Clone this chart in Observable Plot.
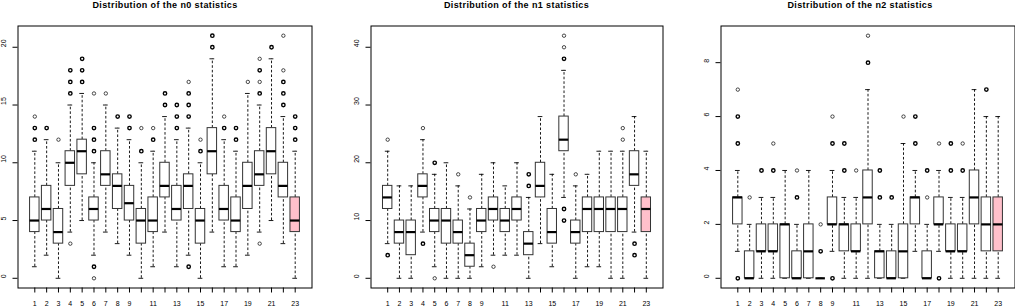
<!DOCTYPE html>
<html>
<head>
<meta charset="utf-8">
<script src="https://cdn.jsdelivr.net/npm/d3@7"></script>
<script src="https://cdn.jsdelivr.net/npm/@observablehq/plot@0.6"></script>
<style>
  html, body { margin: 0; padding: 0; background: #fff; }
  #root { position: relative; width: 1015px; height: 306px; overflow: hidden; font-family: "Liberation Sans", Arial, sans-serif; }
  .panel { position: absolute; top: 0; }
  .panel svg text { opacity: 0.999; }
  .title { position: absolute; top: 0px; transform: translateX(-50%); white-space: nowrap;
           font: bold 9px "Liberation Sans", Arial, sans-serif; letter-spacing: 0.4px; line-height: 11px; color: #000; }
</style>
</head>
<body>
<div id="root"></div>
<script>
// ---------- data ----------
const groups = [1,2,3,4,5,6,7,8,9,10,11,12,13,14,15,16,17,18,19,20,21,22,23];
const xTickLabels = [1,2,3,4,5,6,7,8,9,11,13,15,17,19,21,23];
const highlight = 23;

// n0 statistics
const n0_lo  = [1,2,0,4,5,2,4,3,2,0,1,4,1,2,0,4,1,1,2,4,5,3,0];
const n0_q1  = [4,5,3,8,9,5,8,6,5,3,4,7,5,6,3,9,5,4,6,8,9,7,4];
const n0_med = [5,6,4,10,11,6,9,8,6.5,5,5,8,6,8,5,11,6,5,8,9,11,8,5];
const n0_q3  = [7,8,6,11,12,7,11,9,8,6,7,10,8,9,6,13,8,7,10,11,13,10,7];
const n0_hi  = [11,12,10,15,16,10,15,13,12,10,11,14,12,13,10,19,12,11,16,15,19,14,11];
// outliers: [group, value, multiplicity]
const n0_out = [
  [1,12,2],[1,13,2],[1,14,1],
  [2,13,2],
  [3,12,1],
  [4,3,1],[4,16,2],[4,17,2],[4,18,2],
  [5,17,2],[5,18,2],[5,19,2],
  [6,16,1],[6,13,2],[6,12,2],[6,11,2],[6,1,2],[6,0,1],
  [7,16,1],
  [8,14,2],
  [9,13,2],[9,14,2],
  [10,11,2],[10,13,1],
  [11,12,2],[11,13,1],
  [12,15,2],[12,16,2],
  [13,13,2],[13,14,2],[13,15,2],
  [14,14,2],[14,15,2],[14,16,2],[14,17,1],[14,1,2],
  [15,11,2],[15,12,1],
  [16,20,2],[16,21,2],
  [17,13,2],[17,14,1],
  [18,12,2],[18,13,2],
  [19,17,1],
  [20,3,1],[20,16,2],[20,17,1],[20,18,2],[20,19,1],
  [21,20,2],
  [22,15,2],[22,16,2],[22,17,2],[22,18,1],[22,21,1],
  [23,12,2],[23,13,2],[23,14,2]
];
const n0_yTicks = [0,5,10,15,20];

// n1 statistics
const n1_lo  = [6,0,0,8,2,0,0,0,2,4,4,4,0,6,2,14,0,2,2,0,0,8,0];
const n1_q1  = [12,6,4,14,8,6,6,2,8,10,8,10,4,14,6,22,6,8,8,8,8,16,8];
const n1_med = [14,8,8,16,10,10,8,4,10,12,10,12,6,16,8,24,8,12,12,12,12,18,12];
const n1_q3  = [16,10,10,18,12,12,10,6,12,14,12,14,8,20,12,28,10,14,14,14,14,22,14];
const n1_hi  = [22,16,16,24,18,20,16,12,18,20,16,20,14,28,18,36,16,18,22,22,22,28,22];
const n1_out = [
  [1,24,1],[1,4,2],
  [4,26,1],[4,6,2],
  [5,20,2],[5,0,1],
  [7,18,1],
  [8,14,1],
  [10,2,1],
  [13,16,2],[13,18,2],
  [16,38,2],[16,40,1],[16,42,1],[16,12,2],[16,10,2],
  [17,18,1],
  [21,24,1],[21,26,1],
  [22,6,2],[22,4,2]
];
const n1_yTicks = [0,10,20,30,40];

// n2 statistics
const n2_lo  = [1,0,0,0,0,0,0,0,1,0,0,0,0,0,0,1,0,1,0,0,0,0,0];
const n2_q1  = [2,0,1,1,0,0,0,0,2,1,1,2,0,0,0,2,0,2,1,1,2,1,1];
const n2_med = [3,0,1,1,2,0,1,0,2,2,1,3,1,0,1,3,0,2,1,1,3,2,2];
const n2_q3  = [3,1,2,2,2,1,2,0,3,2,2,4,1,1,2,3,1,3,2,2,4,3,3];
const n2_hi  = [4,2,3,3,4,2,4,0,4,3,3,7,2,2,5,4,2,4,3,3,7,6,6];
const n2_out = [
  [1,0,2],[1,5,2],[1,6,2],[1,7,1],
  [2,3,1],
  [3,4,2],
  [4,4,2],[4,5,1],
  [6,3,2],[6,4,1],
  [8,1,2],[8,2,1],
  [9,0,2],[9,5,2],[9,6,1],
  [10,4,2],[10,5,2],
  [11,4,1],
  [12,8,2],[12,9,1],
  [13,3,2],[13,4,2],
  [14,3,2],
  [15,6,1],
  [16,5,2],[16,6,2],
  [17,3,1],[17,4,2],
  [18,0,2],[18,5,1],
  [19,4,2],[19,5,2],
  [20,4,2],[20,5,1],
  [22,7,2]
];
const n2_yTicks = [0,2,4,6,8];

const titles = ["Distribution of the n0 statistics", "Distribution of the n1 statistics", "Distribution of the n2 statistics"];

// ---------- drawing ----------
const FONT = "'Liberation Sans', Arial, sans-serif";

function panel(lo, q1, med, q3, hi, out, yTicks, width, ml, mr) {
  const rows = groups.map((g, i) => ({g, lo: lo[i], q1: q1[i], med: med[i], q3: q3[i], hi: hi[i]}));
  const pts = out.map(([g, v, n]) => ({g, v, n}));
  const vals = [...lo, ...hi, ...pts.map(d => d.v)];
  const [mn, mx] = d3.extent(vals);
  const pad = (mx - mn) * 0.04;
  const n = groups.length;
  const xp = n * 0.04;
  const dash = "2.6,2";
  return Plot.plot({
    width, height: 306,
    marginTop: 25.5, marginBottom: 18.5, marginLeft: ml, marginRight: mr,
    x: {type: "linear", domain: [0.5 - xp, n + 0.5 + xp], axis: null},
    y: {domain: [mn - pad, mx + pad], axis: null},
    style: {fontFamily: FONT, fontSize: "7px", background: "transparent", color: "#000", overflow: "visible"},
    marks: [
      Plot.ruleX(rows, {x: "g", y1: "q3", y2: "hi", stroke: "#000", strokeWidth: 0.9, strokeDasharray: dash}),
      Plot.ruleX(rows, {x: "g", y1: "lo", y2: "q1", stroke: "#000", strokeWidth: 0.9, strokeDasharray: dash}),
      Plot.ruleY(rows, {y: "hi", x1: d => d.g - 0.2, x2: d => d.g + 0.2, stroke: "#000", strokeWidth: 0.9}),
      Plot.ruleY(rows, {y: "lo", x1: d => d.g - 0.2, x2: d => d.g + 0.2, stroke: "#000", strokeWidth: 0.9}),
      Plot.rect(rows.filter(d => d.g !== highlight), {x1: d => d.g - 0.4, x2: d => d.g + 0.4, y1: "q1", y2: "q3", fill: "#fff", stroke: "#333", strokeWidth: 1}),
      Plot.rect(rows.filter(d => d.g === highlight), {x1: d => d.g - 0.4, x2: d => d.g + 0.4, y1: "q1", y2: "q3", fill: "#FFC0CB", stroke: "#333", strokeWidth: 1}),
      Plot.ruleY(rows, {y: "med", x1: d => d.g - 0.4, x2: d => d.g + 0.4, stroke: "#000", strokeWidth: 2.2}),
      Plot.dot(pts.filter(d => d.n === 1), {x: "g", y: "v", r: 1.7, stroke: "#000", strokeWidth: 0.7}),
      Plot.dot(pts.filter(d => d.n > 1), {x: "g", y: "v", r: 1.7, stroke: "#000", strokeWidth: 1.4}),
      Plot.frame({stroke: "#000", strokeWidth: 1}),
      Plot.axisX({ticks: groups, tickSize: 5, tickPadding: 8, tickFormat: d => xTickLabels.includes(d) ? String(d) : "", label: null, fontSize: 7, fill: "#000"}),
      Plot.axisY({ticks: yTicks, tickSize: 5, tickFormat: () => "", label: null}),
      Plot.text(yTicks, {y: d => d, text: d => String(d), frameAnchor: "left", dx: -14.5, rotate: -90, fontSize: 7, fill: "#000"})
    ]
  });
}

const root = document.getElementById("root");
const specs = [
  {args: [n0_lo, n0_q1, n0_med, n0_q3, n0_hi, n0_out, n0_yTicks], left: 0,   width: 338, ml: 17.5, mr: 26.5, tc: 165},
  {args: [n1_lo, n1_q1, n1_med, n1_q3, n1_hi, n1_out, n1_yTicks], left: 338, width: 338, ml: 32.5, mr: 13.5, tc: 516.5},
  {args: [n2_lo, n2_q1, n2_med, n2_q3, n2_hi, n2_out, n2_yTicks], left: 676, width: 339, ml: 44.5, mr: 0.5, tc: 860}
];
specs.forEach((s, i) => {
  const svg = panel(...s.args, s.width, s.ml, s.mr);
  const wrap = document.createElement("div");
  wrap.className = "panel";
  wrap.style.left = s.left + "px";
  wrap.appendChild(svg);
  root.appendChild(wrap);
  const t = document.createElement("div");
  t.className = "title";
  t.style.left = s.tc + "px";
  t.textContent = titles[i];
  root.appendChild(t);
});
</script>
</body>
</html>
